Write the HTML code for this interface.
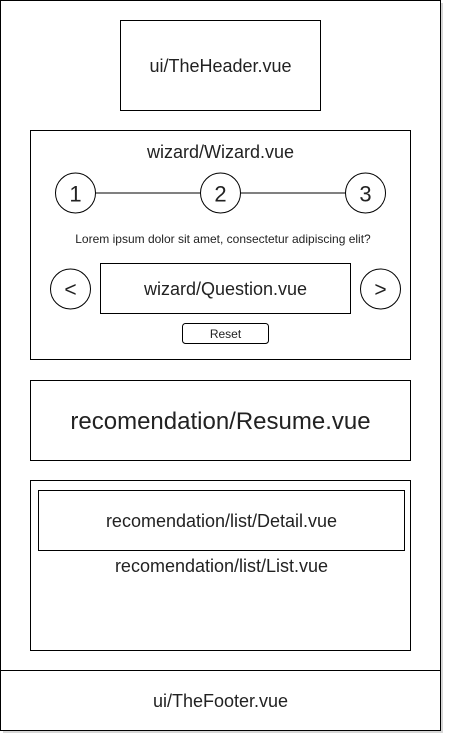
<!DOCTYPE html>
<html><head><meta charset="utf-8"><style>
html,body{margin:0;padding:0;background:#fff;width:452px;height:742px;overflow:hidden}
svg{display:block}
text{font-family:"Liberation Sans",Arial,sans-serif;fill:#222}
</style></head><body>
<svg width="452" height="742" viewBox="0 0 452 742" xmlns="http://www.w3.org/2000/svg">
<rect x="3" y="3" width="440" height="730" fill="#bbb" opacity="0.6"/>
<rect x="0.5" y="0.5" width="440" height="730" fill="#fff" stroke="#000"/>
<line x1="0.5" y1="670.5" x2="440.5" y2="670.5" stroke="#000"/>
<rect x="120.5" y="20.5" width="200" height="90" fill="none" stroke="#000"/>
<text x="220.5" y="72" font-size="18" text-anchor="middle">ui/TheHeader.vue</text>
<rect x="30.5" y="130.5" width="380" height="229" fill="none" stroke="#000"/>
<text x="220.5" y="158" font-size="18" text-anchor="middle">wizard/Wizard.vue</text>
<line x1="95" y1="193" x2="201" y2="193" stroke="#000"/>
<line x1="241" y1="193" x2="346" y2="193" stroke="#000"/>
<circle cx="75.5" cy="193" r="20" fill="#fff" stroke="#000"/>
<circle cx="220.5" cy="193" r="20" fill="#fff" stroke="#000"/>
<circle cx="365.5" cy="193" r="20" fill="#fff" stroke="#000"/>
<text x="75.5" y="201.5" font-size="22" text-anchor="middle">1</text>
<text x="220.5" y="201.5" font-size="22" text-anchor="middle">2</text>
<text x="365.5" y="201.5" font-size="22" text-anchor="middle">3</text>
<text x="223" y="243" font-size="12" text-anchor="middle">Lorem ipsum dolor sit amet, consectetur adipiscing elit?</text>
<circle cx="70.5" cy="289" r="20" fill="#fff" stroke="#000"/>
<circle cx="380.5" cy="289" r="20" fill="#fff" stroke="#000"/>
<text x="70.5" y="296.5" font-size="21" text-anchor="middle">&lt;</text>
<text x="380.5" y="296.5" font-size="21" text-anchor="middle">&gt;</text>
<rect x="100.5" y="263.5" width="250" height="50" fill="none" stroke="#000"/>
<text x="225.5" y="295" font-size="18" text-anchor="middle">wizard/Question.vue</text>
<rect x="182.5" y="323.5" width="86" height="20" rx="3" fill="none" stroke="#000"/>
<text x="225.5" y="338" font-size="12" text-anchor="middle">Reset</text>
<rect x="30.5" y="380.5" width="380" height="80" fill="none" stroke="#000"/>
<text x="220.5" y="429" font-size="24" text-anchor="middle">recomendation/Resume.vue</text>
<rect x="38.5" y="490.5" width="366" height="60" fill="none" stroke="#000"/>
<rect x="30.5" y="480.5" width="380" height="170" fill="none" stroke="#000"/>
<text x="221.5" y="527" font-size="18" text-anchor="middle">recomendation/list/Detail.vue</text>
<text x="221.5" y="572" font-size="18" text-anchor="middle">recomendation/list/List.vue</text>
<text x="220.5" y="707" font-size="18" text-anchor="middle">ui/TheFooter.vue</text>
</svg>
</body></html>
